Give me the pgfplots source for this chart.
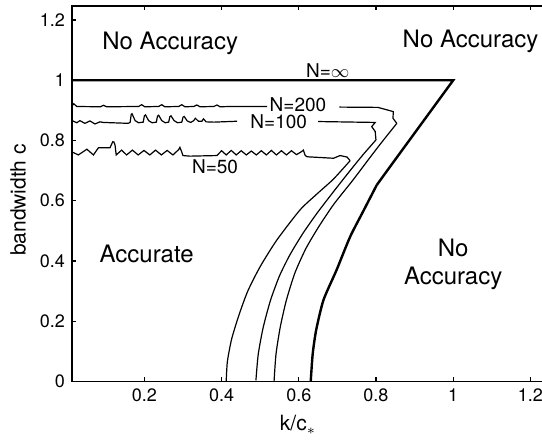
\documentclass[border=0pt]{standalone}
\usepackage{fontspec}
\setmainfont{TeX Gyre Heros}
\usepackage{pgfplots}
\pgfplotsset{compat=1.18}
\begin{document}
\begin{tikzpicture}
% picture is cut on the right, as in the original figure
\useasboundingbox (-36pt,-29.35pt) rectangle (235pt,190.65pt);
\clip (-36pt,-29.35pt) rectangle (235pt,190.65pt);
\begin{axis}[
  x=193pt, y=150.5pt,
  xmin=0.0125, xmax=1.25, ymin=0, ymax=1.247,
  xtick={0.2,0.4,0.6,0.8,1,1.2},
  ytick={0,0.2,0.4,0.6,0.8,1,1.2},
  tick align=inside, major tick length=2.2pt,
  tick style={black, line width=0.6pt},
  axis line style={line width=0.7pt},
  ticklabel style={font=\fontsize{9}{10}\selectfont},
  /pgf/number format/assume math mode=true,
  xlabel={k/c$_\ast$}, ylabel={bandwidth c},
  label style={font=\fontsize{10.5}{12}\selectfont},
  xlabel style={at={(axis description cs:0.473,-0.116)}, anchor=center},
  ylabel style={at={(axis description cs:-0.113,0.483)}, anchor=center},
  thin/.style={black, line width=0.6pt},
]
% N = infinity
\addplot[black, line width=1.2pt] coordinates {(0.0125,1) (1,1) (0.8365,0.713) (0.802,0.652)};
\addplot[black, line width=1.2pt, smooth, tension=0.4] coordinates {(0.802,0.652) (0.767,0.565) (0.733,0.48) (0.698,0.37) (0.664,0.27) (0.645,0.17) (0.636,0.09) (0.631,0)};
% N = 200
\addplot[thin] coordinates {(0.0125,0.915) (0.017,0.922) (0.025,0.913) (0.086,0.912) (0.094,0.917) (0.102,0.912) (0.185,0.913) (0.193,0.919) (0.201,0.912) (0.237,0.913) (0.245,0.919) (0.253,0.912) (0.289,0.913) (0.297,0.919) (0.305,0.912) (0.328,0.913) (0.336,0.918) (0.344,0.912) (0.38,0.913) (0.388,0.918) (0.396,0.912) (0.422,0.913) (0.518,0.913)};
\addplot[thin] coordinates {(0.705,0.911) (0.805,0.910) (0.845,0.896) (0.844,0.874) (0.854,0.857)};
\addplot[thin, smooth, tension=0.4] coordinates {(0.854,0.857) (0.813,0.791) (0.786,0.746) (0.740,0.668) (0.690,0.587) (0.650,0.510) (0.618,0.440) (0.590,0.360) (0.568,0.27) (0.552,0.180) (0.541,0.090) (0.536,0)};
% N = 100
\addplot[thin] coordinates {(0.0127,0.866) (0.025,0.859) (0.033,0.866) (0.046,0.857) (0.059,0.865) (0.072,0.855) (0.085,0.862) (0.094,0.860) (0.158,0.857) (0.163,0.860) (0.166,0.887) (0.168,0.889) (0.176,0.866) (0.185,0.859) (0.197,0.861) (0.200,0.882) (0.203,0.885) (0.211,0.866) (0.22,0.859) (0.231,0.861) (0.234,0.881) (0.237,0.884) (0.245,0.866) (0.254,0.859) (0.263,0.861) (0.266,0.879) (0.269,0.882) (0.277,0.866) (0.286,0.859) (0.297,0.861) (0.300,0.877) (0.303,0.880) (0.311,0.865) (0.32,0.860) (0.328,0.866) (0.332,0.874) (0.340,0.864) (0.349,0.864) (0.353,0.872) (0.36,0.862) (0.38,0.861) (0.44,0.864)};
\addplot[thin] coordinates {(0.650,0.863) (0.798,0.860) (0.789,0.846) (0.798,0.830) (0.800,0.802)};
\addplot[thin, smooth, tension=0.4] coordinates {(0.800,0.802) (0.766,0.752) (0.733,0.700) (0.690,0.630) (0.647,0.558) (0.610,0.490) (0.577,0.420) (0.550,0.350) (0.527,0.27) (0.508,0.180) (0.495,0.090) (0.489,0.003)};
% N = 50
\addplot[thin] coordinates {(0.0127,0.762) (0.029,0.752) (0.051,0.771) (0.068,0.752) (0.081,0.776) (0.111,0.776) (0.116,0.790) (0.118,0.796) (0.121,0.795) (0.124,0.785) (0.127,0.752) (0.141,0.768) (0.154,0.752) (0.169,0.768) (0.184,0.752) (0.199,0.767) (0.214,0.752) (0.229,0.768) (0.244,0.752) (0.259,0.767) (0.274,0.752) (0.289,0.770) (0.292,0.777) (0.296,0.765) (0.300,0.750) (0.318,0.748) (0.388,0.750) (0.400,0.766) (0.412,0.752) (0.425,0.767) (0.438,0.752) (0.451,0.766) (0.464,0.752) (0.477,0.765) (0.490,0.752) (0.503,0.766) (0.516,0.752) (0.529,0.767) (0.542,0.752) (0.555,0.766) (0.568,0.752) (0.581,0.766) (0.594,0.753) (0.606,0.762) (0.612,0.768) (0.616,0.752) (0.621,0.746) (0.690,0.741) (0.707,0.750) (0.725,0.745) (0.733,0.733)};
\addplot[thin, smooth, tension=0.4] coordinates {(0.733,0.733) (0.690,0.672) (0.645,0.620) (0.603,0.569) (0.543,0.469) (0.500,0.381) (0.468,0.300) (0.445,0.220) (0.426,0.140) (0.415,0.065) (0.412,0)};
% labels
\node[font=\fontsize{9.5}{11}\selectfont, inner sep=0.5pt] at (axis cs:0.675,1.033) {N=$\infty$};
\node[font=\fontsize{9.5}{11}\selectfont, inner sep=0.5pt] at (axis cs:0.598,0.919) {N=200};
\node[font=\fontsize{9.5}{11}\selectfont, inner sep=0.5pt] at (axis cs:0.548,0.861) {N=100};
\node[font=\fontsize{9.5}{11}\selectfont, inner sep=0.5pt] at (axis cs:0.383,0.712) {N=50};
\node[font=\fontsize{12}{14}\selectfont] at (axis cs:0.267,1.124) {No Accuracy};
\node[font=\fontsize{12}{14}\selectfont] at (axis cs:1.045,1.128) {No Accuracy};
\node[font=\fontsize{12}{14}\selectfont] at (axis cs:0.206,0.423) {Accurate};
\node[font=\fontsize{12}{14}\selectfont, align=center] at (axis cs:1.0,0.39) {No\\Accuracy};
\end{axis}
\end{tikzpicture}
\end{document}
